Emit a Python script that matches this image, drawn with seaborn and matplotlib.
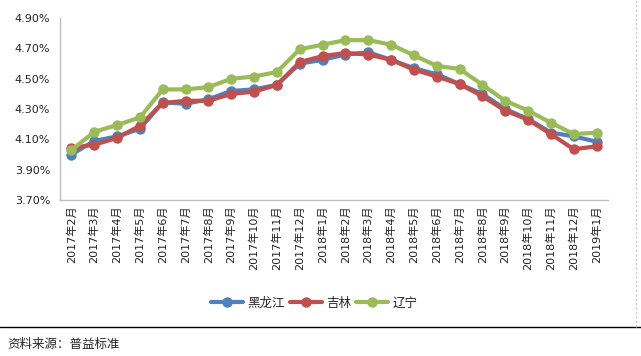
import numpy as np
import pandas as pd
import matplotlib
matplotlib.use("Agg")
import matplotlib.pyplot as plt
from matplotlib.lines import Line2D
from matplotlib.ticker import FixedLocator, FuncFormatter
import seaborn as sns

months = ["2017年2月", "2017年3月", "2017年4月", "2017年5月", "2017年6月", "2017年7月",
          "2017年8月", "2017年9月", "2017年10月", "2017年11月", "2017年12月", "2018年1月",
          "2018年2月", "2018年3月", "2018年4月", "2018年5月", "2018年6月", "2018年7月",
          "2018年8月", "2018年9月", "2018年10月", "2018年11月", "2018年12月", "2019年1月"]

heilongjiang = [4.00, 4.09, 4.12, 4.17, 4.345, 4.335, 4.365, 4.42, 4.43, 4.46, 4.60, 4.625,
                4.66, 4.675, 4.625, 4.57, 4.53, 4.465, 4.40, 4.30, 4.235, 4.145, 4.12, 4.085]
jilin = [4.045, 4.065, 4.11, 4.19, 4.34, 4.355, 4.355, 4.40, 4.415, 4.46, 4.61, 4.65,
         4.67, 4.66, 4.625, 4.56, 4.515, 4.465, 4.385, 4.29, 4.23, 4.135, 4.035, 4.055]
liaoning = [4.03, 4.15, 4.195, 4.245, 4.43, 4.43, 4.445, 4.50, 4.515, 4.545, 4.695, 4.725,
            4.755, 4.755, 4.725, 4.655, 4.585, 4.565, 4.46, 4.355, 4.29, 4.21, 4.135, 4.145]

names = ["黑龙江", "吉林", "辽宁"]
colors = ["#4F81BD", "#C0504D", "#9BBB59"]


def main():
    sns.set_style("white")
    plt.rcParams['font.family'] = ['DejaVu Sans', 'Noto Sans CJK SC']

    n = len(months)
    df = pd.DataFrame({
        "idx": list(range(n)) * 3,
        "value": heilongjiang + jilin + liaoning,
        "region": [names[0]] * n + [names[1]] * n + [names[2]] * n,
    })

    fig = plt.figure(figsize=(6.41, 3.56), dpi=100)
    ax = fig.add_axes([0.0936, 0.438, 0.855, 0.511])

    sns.lineplot(data=df, x="idx", y="value", hue="region", hue_order=names,
                 palette=colors, marker="o", markersize=7.5, markeredgewidth=0,
                 linewidth=3, legend=False, ax=ax)

    ax.set_xlim(-0.5, n - 0.5)
    ax.set_ylim(3.70, 4.90)
    ax.set_yticks(np.arange(3.70, 4.91, 0.20))
    ax.yaxis.set_major_formatter(FuncFormatter(lambda v, p: f"{v:.2f}%"))
    ax.set_xticks(range(n))
    ax.set_xticklabels(months, rotation=90, fontsize=8, color="#222222")
    ax.xaxis.set_minor_locator(FixedLocator(np.arange(-0.5, n, 1)))
    ax.tick_params(axis="x", which="major", length=0, pad=4)
    ax.tick_params(axis="x", which="minor", length=5, color="#BFBFBF", width=1)
    ax.tick_params(axis="y", length=5, color="#BFBFBF", labelsize=8, labelcolor="#222222", pad=2)
    ax.set_xlabel("")
    ax.set_ylabel("")

    for s in ["top", "right"]:
        ax.spines[s].set_visible(False)
    for s in ["left", "bottom"]:
        ax.spines[s].set_color("#BFBFBF")
        ax.spines[s].set_linewidth(1)

    handles = [Line2D([0], [0], color=c, lw=3, marker="o", markersize=7.5, markeredgewidth=0)
               for c in colors]
    fig.legend(handles, names, loc="center", bbox_to_anchor=(0.49, 0.148), ncol=3,
               frameon=False, fontsize=9, handlelength=2.6, columnspacing=0.4,
               handletextpad=0.3)

    # separator line and source note
    fig.add_artist(Line2D([0, 1], [0.0815, 0.0815], color="black", lw=1,
                          transform=fig.transFigure))
    fig.add_artist(Line2D([0.992, 0.992], [0.0815, 1], color="#C8C8C8", lw=0.8,
                          linestyle=(0, (2, 2)), transform=fig.transFigure))
    fig.text(0.011, 0.031, "资料来源：普益标准", fontsize=9, va="center", ha="left",
             family=['Noto Sans CJK SC', 'DejaVu Sans'])

    fig.savefig("out.png", dpi=100)
    plt.close(fig)


if __name__ == '__main__':
    main()
